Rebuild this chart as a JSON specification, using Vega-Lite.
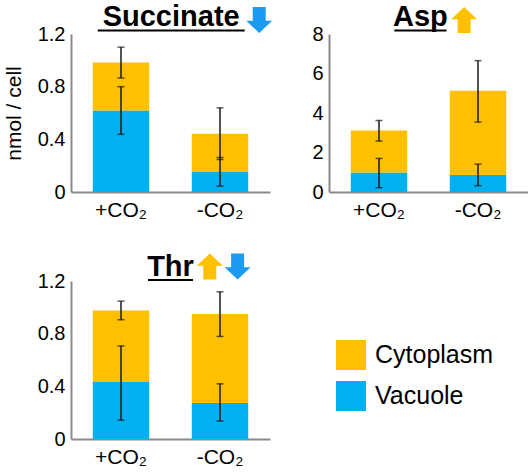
{
  "$schema": "https://vega.github.io/schema/vega-lite/v6.json",
  "padding": {"left": 3, "top": 3, "right": 0, "bottom": 0},
  "bounds": "flush",
  "columns": 2,
  "spacing": {"row": 89, "column": 59},
  "config": {
    "font": "Liberation Sans",
    "view": {"stroke": null},
    "axis": {"domainColor": "#8a8a8a", "domainWidth": 2, "ticks": false, "grid": false, "labelColor": "black", "labelFont": "Liberation Sans", "titleFont": "Liberation Sans", "titleColor": "black", "labelOverlap": false}
  },
  "datasets": {
    "bars": [
      {"metabolite": "Succinate", "cond": "+CO₂", "part": "Cytoplasm", "value": 0.367, "lo": 0.866, "hi": 1.10},
      {"metabolite": "Succinate", "cond": "+CO₂", "part": "Vacuole", "value": 0.617, "lo": 0.438, "hi": 0.80},
      {"metabolite": "Succinate", "cond": "-CO₂", "part": "Cytoplasm", "value": 0.289, "lo": 0.247, "hi": 0.639},
      {"metabolite": "Succinate", "cond": "-CO₂", "part": "Vacuole", "value": 0.154, "lo": 0.045, "hi": 0.262},
      {"metabolite": "Asp", "cond": "+CO₂", "part": "Cytoplasm", "value": 2.14, "lo": 2.58, "hi": 3.62},
      {"metabolite": "Asp", "cond": "+CO₂", "part": "Vacuole", "value": 0.97, "lo": 0.22, "hi": 1.70},
      {"metabolite": "Asp", "cond": "-CO₂", "part": "Cytoplasm", "value": 4.27, "lo": 3.54, "hi": 6.65},
      {"metabolite": "Asp", "cond": "-CO₂", "part": "Vacuole", "value": 0.86, "lo": 0.32, "hi": 1.41},
      {"metabolite": "Thr", "cond": "+CO₂", "part": "Cytoplasm", "value": 0.544, "lo": 0.906, "hi": 1.047},
      {"metabolite": "Thr", "cond": "+CO₂", "part": "Vacuole", "value": 0.432, "lo": 0.143, "hi": 0.707},
      {"metabolite": "Thr", "cond": "-CO₂", "part": "Cytoplasm", "value": 0.677, "lo": 0.779, "hi": 1.118},
      {"metabolite": "Thr", "cond": "-CO₂", "part": "Vacuole", "value": 0.273, "lo": 0.136, "hi": 0.419}
    ]
  },
  "concat": [
    {
      "width": 199, "height": 158,
      "layer": [
        {
          "data": {"name": "bars"},
          "transform": [{"filter": "datum.metabolite === 'Succinate'"}],
          "layer": [
            {
              "mark": {"type": "bar"},
              "encoding": {
                "x": {"field": "cond", "type": "nominal", "scale": {"domain": ["+CO₂", "-CO₂"], "paddingInner": 0.43, "paddingOuter": 0.22}, "axis": {"labelAngle": 0, "labelFontSize": 21, "labelPadding": 7, "title": null}},
                "y": {"field": "value", "type": "quantitative", "stack": "zero", "scale": {"domain": [0, 1.2], "nice": false}, "axis": {"values": [0, 0.4, 0.8, 1.2], "format": "~g", "labelFontSize": 20, "labelPadding": 6, "labelOverlap": false, "title": "nmol / cell", "titleFontSize": 21, "titleFontWeight": "normal", "titlePadding": 13}},
                "color": {"field": "part", "type": "nominal", "scale": {"domain": ["Cytoplasm", "Vacuole"], "range": ["#FFC000", "#00B0F0"]}, "legend": {"orient": "none", "legendX": 265, "legendY": 306, "title": null, "symbolType": "square", "symbolSize": 900, "symbolStrokeWidth": 0, "labelFontSize": 25, "labelOffset": 9, "rowPadding": 11, "padding": 0}},
                "order": {"field": "part", "sort": "descending"}
              }
            },
            {
              "mark": {"type": "rule", "color": "#1a1a1a", "strokeWidth": 1.5},
              "encoding": {"x": {"field": "cond", "type": "nominal"}, "y": {"field": "lo", "type": "quantitative", "axis": {"values": [0, 0.4, 0.8, 1.2], "format": "~g", "labelFontSize": 20, "labelPadding": 6, "labelOverlap": false, "title": "nmol / cell", "titleFontSize": 21, "titleFontWeight": "normal", "titlePadding": 13}}, "y2": {"field": "hi"}}
            },
            {
              "mark": {"type": "tick", "color": "#1a1a1a", "size": 7, "thickness": 1.5},
              "encoding": {"x": {"field": "cond", "type": "nominal"}, "y": {"field": "lo", "type": "quantitative", "axis": {"values": [0, 0.4, 0.8, 1.2], "format": "~g", "labelFontSize": 20, "labelPadding": 6, "labelOverlap": false, "title": "nmol / cell", "titleFontSize": 21, "titleFontWeight": "normal", "titlePadding": 13}}}
            },
            {
              "mark": {"type": "tick", "color": "#1a1a1a", "size": 7, "thickness": 1.5},
              "encoding": {"x": {"field": "cond", "type": "nominal"}, "y": {"field": "hi", "type": "quantitative", "axis": {"values": [0, 0.4, 0.8, 1.2], "format": "~g", "labelFontSize": 20, "labelPadding": 6, "labelOverlap": false, "title": "nmol / cell", "titleFontSize": 21, "titleFontWeight": "normal", "titlePadding": 13}}}
            }
          ]
        },
        {
          "data": {"values": [{"t": "Succinate"}]},
          "mark": {"type": "text", "fontSize": 29, "fontWeight": "bold", "align": "center", "baseline": "alphabetic", "color": "black"},
          "encoding": {"text": {"field": "t"}, "x": {"datum": "+CO₂", "type": "nominal", "bandPosition": 1.389}, "y": {"datum": 1.257, "type": "quantitative", "axis": {"values": [0, 0.4, 0.8, 1.2], "format": "~g", "labelFontSize": 20, "labelPadding": 6, "labelOverlap": false, "title": "nmol / cell", "titleFontSize": 21, "titleFontWeight": "normal", "titlePadding": 13}}}
        },
        {
          "data": {"values": [{}]},
          "mark": {"type": "rule", "color": "black", "strokeWidth": 2},
          "encoding": {"x": {"datum": "+CO₂", "type": "nominal", "bandPosition": 0.088}, "x2": {"datum": "-CO₂", "bandPosition": 0.938}, "y": {"datum": 1.2266, "type": "quantitative", "axis": {"values": [0, 0.4, 0.8, 1.2], "format": "~g", "labelFontSize": 20, "labelPadding": 6, "labelOverlap": false, "title": "nmol / cell", "titleFontSize": 21, "titleFontWeight": "normal", "titlePadding": 13}}}
        },
        {
          "data": {"values": [{}]},
          "mark": {"type": "point", "shape": "M0,1L1,0.05L0.5,0.05L0.5,-1L-0.5,-1L-0.5,0.05L-1,0.05Z", "filled": true, "opacity": 1, "size": 676, "color": "#1B9CF2"},
          "encoding": {"x": {"datum": "-CO₂", "type": "nominal", "bandPosition": 1.195}, "y": {"datum": 1.3063, "type": "quantitative", "axis": {"values": [0, 0.4, 0.8, 1.2], "format": "~g", "labelFontSize": 20, "labelPadding": 6, "labelOverlap": false, "title": "nmol / cell", "titleFontSize": 21, "titleFontWeight": "normal", "titlePadding": 13}}}
        }
      ]
    },
    {
      "width": 199, "height": 158,
      "layer": [
        {
          "data": {"name": "bars"},
          "transform": [{"filter": "datum.metabolite === 'Asp'"}],
          "layer": [
            {
              "mark": {"type": "bar"},
              "encoding": {
                "x": {"field": "cond", "type": "nominal", "scale": {"domain": ["+CO₂", "-CO₂"], "paddingInner": 0.43, "paddingOuter": 0.22}, "axis": {"labelAngle": 0, "labelFontSize": 21, "labelPadding": 7, "title": null}},
                "y": {"field": "value", "type": "quantitative", "stack": "zero", "scale": {"domain": [0, 8], "nice": false}, "axis": {"values": [0, 2, 4, 6, 8], "format": "~g", "labelFontSize": 20, "labelPadding": 6, "labelOverlap": false, "title": null}},
                "color": {"field": "part", "type": "nominal", "scale": {"domain": ["Cytoplasm", "Vacuole"], "range": ["#FFC000", "#00B0F0"]}, "legend": {"orient": "none", "legendX": 265, "legendY": 306, "title": null, "symbolType": "square", "symbolSize": 900, "symbolStrokeWidth": 0, "labelFontSize": 25, "labelOffset": 9, "rowPadding": 11, "padding": 0}},
                "order": {"field": "part", "sort": "descending"}
              }
            },
            {
              "mark": {"type": "rule", "color": "#1a1a1a", "strokeWidth": 1.5},
              "encoding": {"x": {"field": "cond", "type": "nominal"}, "y": {"field": "lo", "type": "quantitative", "axis": {"values": [0, 2, 4, 6, 8], "format": "~g", "labelFontSize": 20, "labelPadding": 6, "labelOverlap": false, "title": null}}, "y2": {"field": "hi"}}
            },
            {
              "mark": {"type": "tick", "color": "#1a1a1a", "size": 7, "thickness": 1.5},
              "encoding": {"x": {"field": "cond", "type": "nominal"}, "y": {"field": "lo", "type": "quantitative", "axis": {"values": [0, 2, 4, 6, 8], "format": "~g", "labelFontSize": 20, "labelPadding": 6, "labelOverlap": false, "title": null}}}
            },
            {
              "mark": {"type": "tick", "color": "#1a1a1a", "size": 7, "thickness": 1.5},
              "encoding": {"x": {"field": "cond", "type": "nominal"}, "y": {"field": "hi", "type": "quantitative", "axis": {"values": [0, 2, 4, 6, 8], "format": "~g", "labelFontSize": 20, "labelPadding": 6, "labelOverlap": false, "title": null}}}
            }
          ]
        },
        {
          "data": {"values": [{"t": "Asp"}]},
          "mark": {"type": "text", "fontSize": 29, "fontWeight": "bold", "align": "center", "baseline": "alphabetic", "color": "black"},
          "encoding": {"text": {"field": "t"}, "x": {"datum": "+CO₂", "type": "nominal", "bandPosition": 1.234}, "y": {"datum": 8.38, "type": "quantitative", "axis": {"values": [0, 2, 4, 6, 8], "format": "~g", "labelFontSize": 20, "labelPadding": 6, "labelOverlap": false, "title": null}}}
        },
        {
          "data": {"values": [{}]},
          "mark": {"type": "rule", "color": "black", "strokeWidth": 2},
          "encoding": {"x": {"datum": "+CO₂", "type": "nominal", "bandPosition": 0.773}, "x2": {"datum": "+CO₂", "bandPosition": 1.696}, "y": {"datum": 8.177, "type": "quantitative", "axis": {"values": [0, 2, 4, 6, 8], "format": "~g", "labelFontSize": 20, "labelPadding": 6, "labelOverlap": false, "title": null}}}
        },
        {
          "data": {"values": [{}]},
          "mark": {"type": "point", "shape": "M0,-1L1,-0.05L0.5,-0.05L0.5,1L-0.5,1L-0.5,-0.05L-1,-0.05Z", "filled": true, "opacity": 1, "size": 676, "color": "#FFC000"},
          "encoding": {"x": {"datum": "-CO₂", "type": "nominal", "bandPosition": 0.254}, "y": {"datum": 8.709, "type": "quantitative", "axis": {"values": [0, 2, 4, 6, 8], "format": "~g", "labelFontSize": 20, "labelPadding": 6, "labelOverlap": false, "title": null}}}
        }
      ]
    },
    {
      "width": 199, "height": 158,
      "layer": [
        {
          "data": {"name": "bars"},
          "transform": [{"filter": "datum.metabolite === 'Thr'"}],
          "layer": [
            {
              "mark": {"type": "bar"},
              "encoding": {
                "x": {"field": "cond", "type": "nominal", "scale": {"domain": ["+CO₂", "-CO₂"], "paddingInner": 0.43, "paddingOuter": 0.22}, "axis": {"labelAngle": 0, "labelFontSize": 21, "labelPadding": 7, "title": null}},
                "y": {"field": "value", "type": "quantitative", "stack": "zero", "scale": {"domain": [0, 1.2], "nice": false}, "axis": {"values": [0, 0.4, 0.8, 1.2], "format": "~g", "labelFontSize": 20, "labelPadding": 6, "labelOverlap": false, "title": null}},
                "color": {"field": "part", "type": "nominal", "scale": {"domain": ["Cytoplasm", "Vacuole"], "range": ["#FFC000", "#00B0F0"]}, "legend": {"orient": "none", "legendX": 265, "legendY": 306, "title": null, "symbolType": "square", "symbolSize": 900, "symbolStrokeWidth": 0, "labelFontSize": 25, "labelOffset": 9, "rowPadding": 11, "padding": 0}},
                "order": {"field": "part", "sort": "descending"}
              }
            },
            {
              "mark": {"type": "rule", "color": "#1a1a1a", "strokeWidth": 1.5},
              "encoding": {"x": {"field": "cond", "type": "nominal"}, "y": {"field": "lo", "type": "quantitative", "axis": {"values": [0, 0.4, 0.8, 1.2], "format": "~g", "labelFontSize": 20, "labelPadding": 6, "labelOverlap": false, "title": null}}, "y2": {"field": "hi"}}
            },
            {
              "mark": {"type": "tick", "color": "#1a1a1a", "size": 7, "thickness": 1.5},
              "encoding": {"x": {"field": "cond", "type": "nominal"}, "y": {"field": "lo", "type": "quantitative", "axis": {"values": [0, 0.4, 0.8, 1.2], "format": "~g", "labelFontSize": 20, "labelPadding": 6, "labelOverlap": false, "title": null}}}
            },
            {
              "mark": {"type": "tick", "color": "#1a1a1a", "size": 7, "thickness": 1.5},
              "encoding": {"x": {"field": "cond", "type": "nominal"}, "y": {"field": "hi", "type": "quantitative", "axis": {"values": [0, 0.4, 0.8, 1.2], "format": "~g", "labelFontSize": 20, "labelPadding": 6, "labelOverlap": false, "title": null}}}
            }
          ]
        },
        {
          "data": {"values": [{"t": "Thr"}]},
          "mark": {"type": "text", "fontSize": 29, "fontWeight": "bold", "align": "center", "baseline": "alphabetic", "color": "black"},
          "encoding": {"text": {"field": "t"}, "x": {"datum": "+CO₂", "type": "nominal", "bandPosition": 1.377}, "y": {"datum": 1.238, "type": "quantitative", "axis": {"values": [0, 0.4, 0.8, 1.2], "format": "~g", "labelFontSize": 20, "labelPadding": 6, "labelOverlap": false, "title": null}}}
        },
        {
          "data": {"values": [{}]},
          "mark": {"type": "rule", "color": "black", "strokeWidth": 2},
          "encoding": {"x": {"datum": "+CO₂", "type": "nominal", "bandPosition": 0.979}, "x2": {"datum": "+CO₂", "bandPosition": 1.775}, "y": {"datum": 1.2076, "type": "quantitative", "axis": {"values": [0, 0.4, 0.8, 1.2], "format": "~g", "labelFontSize": 20, "labelPadding": 6, "labelOverlap": false, "title": null}}}
        },
        {
          "data": {"values": [{}]},
          "mark": {"type": "point", "shape": "M0,-1L1,-0.05L0.5,-0.05L0.5,1L-0.5,1L-0.5,-0.05L-1,-0.05Z", "filled": true, "opacity": 1, "size": 676, "color": "#FFC000"},
          "encoding": {"x": {"datum": "-CO₂", "type": "nominal", "bandPosition": 0.319}, "y": {"datum": 1.31, "type": "quantitative", "axis": {"values": [0, 0.4, 0.8, 1.2], "format": "~g", "labelFontSize": 20, "labelPadding": 6, "labelOverlap": false, "title": null}}}
        },
        {
          "data": {"values": [{}]},
          "mark": {"type": "point", "shape": "M0,1L1,0.05L0.5,0.05L0.5,-1L-0.5,-1L-0.5,0.05L-1,0.05Z", "filled": true, "opacity": 1, "size": 676, "color": "#1B9CF2"},
          "encoding": {"x": {"datum": "-CO₂", "type": "nominal", "bandPosition": 0.812}, "y": {"datum": 1.31, "type": "quantitative", "axis": {"values": [0, 0.4, 0.8, 1.2], "format": "~g", "labelFontSize": 20, "labelPadding": 6, "labelOverlap": false, "title": null}}}
        }
      ]
    }
  ]
}
